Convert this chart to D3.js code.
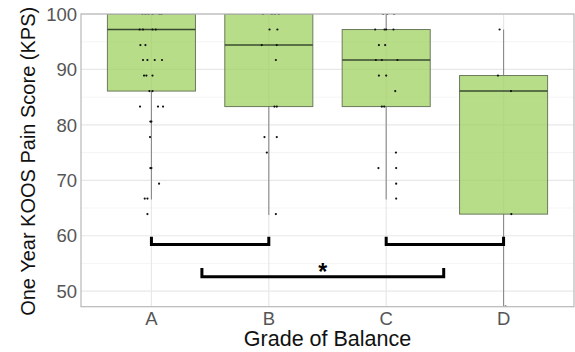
<!DOCTYPE html>
<html>
<head>
<meta charset="utf-8">
<script src="https://cdn.jsdelivr.net/npm/d3@7"></script>
<style>
  body { margin: 0; background: #fff; }
  svg { display: block; }
</style>
</head>
<body>
<div id="container"></div>
<script>
// categories and box summaries
var grades = ["A", "B", "C", "D"];
var boxLow = [86.1, 83.3, 83.3, 63.9];
var boxMedian = [97.2, 94.4, 91.7, 86.1];
var boxHigh = [100, 100, 97.2, 88.9];
var whiskerLow = [66.7, 63.9, 66.7, 47.2];
var whiskerHigh = [100, 100, 100, 97.2];

// jittered raw scores (jitter in category units)
var pointGrade = [
  "A","A","A","A","A","A", "A","A","A","A", "A","A", "A","A","A","A", "A","A","A", "A","A",
  "A","A","A", "A","A", "A", "A","A", "A", "A","A", "A",
  "B","B","B","B", "B","B", "B","B", "B", "B","B", "B","B", "B", "B",
  "C","C","C", "C","C","C","C", "C","C", "C","C","C", "C","C", "C", "C","C", "C", "C","C", "C", "C",
  "D","D","D","D","D"
];
var pointScore = [
  100,100,100,100,100,100, 97.2,97.2,97.2,97.2, 94.4,94.4, 91.7,91.7,91.7,91.7, 88.9,88.9,88.9, 86.1,86.1,
  83.3,83.3,83.3, 80.6,80.6, 77.8, 72.2,72.2, 69.4, 66.7,66.7, 63.9,
  100,100,100,100, 97.2,97.2, 94.4,94.4, 91.7, 83.3,83.3, 77.8,77.8, 75, 63.9,
  100,100,100, 97.2,97.2,97.2,97.2, 94.4,94.4, 91.7,91.7,91.7, 88.9,88.9, 86.1, 83.3,83.3, 75, 72.2,72.2, 69.4, 66.7,
  97.2, 88.9, 86.1, 63.9, 47.2
];
var pointJitter = [
  -0.077,-0.051,-0.026,0.009,0.068,0.085, -0.100,-0.072,0.009,0.037, -0.094,-0.051, -0.072,-0.034,0.028,0.090, -0.063,-0.043,0.009, -0.017,0.009,
  -0.097,0.056,0.099, 0.000,-0.009, -0.012, -0.009,0.000, 0.065, -0.057,-0.034, -0.034,
  -0.051,0.026,0.051,0.085, 0.006,0.073, -0.060,0.068, 0.060, 0.048,0.068, -0.037,0.068, -0.017, 0.060,
  -0.026,0.009,0.068, -0.094,-0.014,0.000,0.062, -0.062,-0.009, -0.088,-0.037,0.096, -0.062,0.000, 0.077, -0.037,-0.017, 0.083, -0.066,0.085, 0.085, 0.085,
  -0.034, -0.048, 0.063, 0.066, 0.017
];

// significance brackets (positions in category units, levels in score units)
var bracketFrom = [0, 2, 0.43];
var bracketTo = [1, 3, 2.49];
var bracketLevel = [58.4, 58.4, 52.6];
var bracketTip = [59.8, 59.8, 54.2];
var bracketLabel = ["", "", "*"];

var yMajor = [50, 60, 70, 80, 90, 100];
var yMinor = [55, 65, 75, 85, 95];

function draw()
{
  var W = 575, H = 352;
  var left = 81, right = 574, top = 14, bottom = 306.7;

  var svg = d3.select("#container").append("svg")
    .attr("width", W)
    .attr("height", H);

  var x = d3.scalePoint().domain(grades).range([left, right]).padding(0.6);
  var step = x.step();
  var xc = (v) => x(grades[0]) + v * step; // continuous category position
  var y = d3.scaleLinear().domain([47.2, 100]).range([bottom, top]);

  var font = "'Liberation Sans', Arial, sans-serif";

  // grid
  svg.selectAll(".minor").data(yMinor).enter().append("line")
    .attr("x1", left).attr("x2", right)
    .attr("y1", (d) => y(d)).attr("y2", (d) => y(d))
    .attr("stroke", "#f3f3f3").attr("stroke-width", 0.8);
  svg.selectAll(".major").data(yMajor).enter().append("line")
    .attr("x1", left).attr("x2", right)
    .attr("y1", (d) => y(d)).attr("y2", (d) => y(d))
    .attr("stroke", "#e8e8e8").attr("stroke-width", 1.2);
  svg.selectAll(".vgrid").data(grades).enter().append("line")
    .attr("x1", (d) => x(d)).attr("x2", (d) => x(d))
    .attr("y1", top).attr("y2", bottom)
    .attr("stroke", "#e8e8e8").attr("stroke-width", 1.2);

  var plot = svg.append("g");
  svg.append("clipPath").attr("id", "panel")
    .append("rect").attr("x", left).attr("y", top).attr("width", right - left).attr("height", bottom - top);
  plot.attr("clip-path", "url(#panel)");

  var bw = step * 0.75;

  // whiskers
  plot.selectAll(".wh").data(grades).enter().append("line")
    .attr("x1", (d) => x(d)).attr("x2", (d) => x(d))
    .attr("y1", (d, i) => y(whiskerHigh[i])).attr("y2", (d, i) => y(boxHigh[i]))
    .attr("stroke", "#8a8a8a").attr("stroke-width", 1.1);
  plot.selectAll(".wl").data(grades).enter().append("line")
    .attr("x1", (d) => x(d)).attr("x2", (d) => x(d))
    .attr("y1", (d, i) => y(boxLow[i])).attr("y2", (d, i) => y(whiskerLow[i]) + 1)
    .attr("stroke", "#8a8a8a").attr("stroke-width", 1.1);

  // boxes
  plot.selectAll(".box").data(grades).enter().append("rect")
    .attr("x", (d) => x(d) - bw / 2)
    .attr("y", (d, i) => y(boxHigh[i]))
    .attr("width", bw)
    .attr("height", (d, i) => y(boxLow[i]) - y(boxHigh[i]))
    .attr("fill", "rgba(155, 208, 90, 0.72)")
    .attr("stroke", "#6b7a5c").attr("stroke-width", 1);
  plot.selectAll(".med").data(grades).enter().append("line")
    .attr("x1", (d) => x(d) - bw / 2).attr("x2", (d) => x(d) + bw / 2)
    .attr("y1", (d, i) => y(boxMedian[i])).attr("y2", (d, i) => y(boxMedian[i]))
    .attr("stroke", "#3a4a30").attr("stroke-width", 1.6);

  // points
  plot.selectAll(".pt").data(pointScore).enter().append("circle")
    .attr("cx", (d, i) => x(pointGrade[i]) + pointJitter[i] * step)
    .attr("cy", (d) => y(d))
    .attr("r", 1.1)
    .attr("fill", "#111");

  // panel border
  svg.append("rect")
    .attr("x", left).attr("y", top).attr("width", right - left).attr("height", bottom - top)
    .attr("fill", "none").attr("stroke", "#b8b8b8").attr("stroke-width", 1.2);

  // brackets
  svg.selectAll(".br").data(bracketLevel).enter().append("path")
    .attr("d", (d, i) => "M" + xc(bracketFrom[i]) + "," + y(bracketTip[i]) +
      "V" + y(d) + "H" + xc(bracketTo[i]) + "V" + y(bracketTip[i]))
    .attr("fill", "none").attr("stroke", "#000").attr("stroke-width", 3)
    .attr("stroke-linejoin", "miter");
  svg.selectAll(".star").data(bracketLabel).enter().append("text")
    .attr("x", (d, i) => xc((bracketFrom[i] + bracketTo[i]) / 2))
    .attr("y", (d, i) => y(bracketTip[i]) + 12)
    .attr("text-anchor", "middle")
    .attr("font-family", font).attr("font-weight", "bold").attr("font-size", 23)
    .text((d) => d);

  // y tick labels
  svg.selectAll(".ytl").data(yMajor).enter().append("text")
    .attr("x", left - 4).attr("y", (d) => y(d))
    .attr("dy", "0.36em")
    .attr("text-anchor", "end")
    .attr("font-family", font).attr("font-size", 18.5)
    .attr("fill", "#555")
    .text((d) => d);
  // x tick labels
  svg.selectAll(".xtl").data(grades).enter().append("text")
    .attr("x", (d) => x(d)).attr("y", bottom + 18)
    .attr("text-anchor", "middle")
    .attr("font-family", font).attr("font-size", 18.5)
    .attr("fill", "#555")
    .text((d) => d);

  // axis titles
  svg.append("text")
    .attr("x", (left + right) / 2).attr("y", 346)
    .attr("text-anchor", "middle")
    .attr("font-family", font).attr("font-size", 21.5)
    .attr("fill", "#111")
    .text("Grade of Balance");
  svg.append("text")
    .attr("transform", "translate(35," + ((top + bottom) / 2 + 1) + ") rotate(-90)")
    .attr("text-anchor", "middle")
    .attr("font-family", font).attr("font-size", 20)
    .attr("fill", "#111")
    .text("One Year KOOS Pain Score (KPS)");
}

draw();
</script>
</body>
</html>
